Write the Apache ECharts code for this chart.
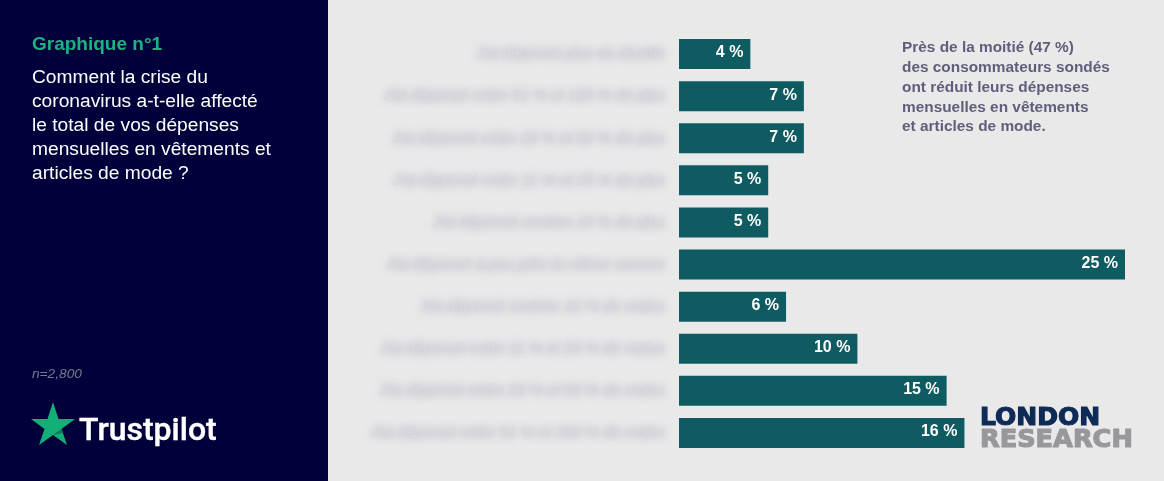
<!DOCTYPE html>
<html>
<head>
<meta charset="utf-8">
<style>
  html, body { margin: 0; padding: 0; background: #e9e9ea; }
  #chart { width: 1164px; height: 481px; }
</style>
<script src="https://cdn.jsdelivr.net/npm/echarts@6/dist/echarts.min.js"></script>
</head>
<body>
<div id="chart"></div>
<script>
const categories = [
  "J'ai dépensé plus du double",
  "J'ai dépensé entre 51 % et 100 % de plus",
  "J'ai dépensé entre 26 % et 50 % de plus",
  "J'ai dépensé entre 11 % et 25 % de plus",
  "J'ai dépensé environ 10 % de plus",
  "J'ai dépensé à peu près la même somme",
  "J'ai dépensé environ 10 % de moins",
  "J'ai dépensé entre 11 % et 25 % de moins",
  "J'ai dépensé entre 26 % et 50 % de moins",
  "J'ai dépensé entre 51 % et 100 % de moins"
];
const shares = [4, 7, 7, 5, 5, 25, 6, 10, 15, 16];
const questionLines = [
  'Comment la crise du',
  'coronavirus a-t-elle affecté',
  'le total de vos dépenses',
  'mensuelles en vêtements et',
  'articles de mode ?'
];
const noteLines = [
  'Près de la moitié (47 %)',
  'des consommateurs sondés',
  'ont réduit leurs dépenses',
  'mensuelles en vêtements',
  'et articles de mode.'
];

const chart = echarts.init(document.getElementById('chart'));

chart.setOption({
  animation: false,
  backgroundColor: '#e9e9ea',
  grid: { left: 679, top: 33, width: 446, height: 421 },
  xAxis: { type: 'value', min: 0, max: 25, show: false },
  yAxis: {
    type: 'category',
    inverse: true,
    data: categories,
    axisLine: { show: false },
    axisTick: { show: false },
    axisLabel: {
      margin: 14,
      fontFamily: 'Liberation Sans',
      fontStyle: 'italic',
      fontSize: 15.3,
      // the source labels are blurred out
      color: '#d8d8df',
      textShadowColor: 'rgba(115,115,145,0.65)',
      textShadowBlur: 8
    }
  },
  series: [{
    type: 'bar',
    data: shares,
    barWidth: 30,
    itemStyle: { color: '#0f5b62' },
    label: {
      show: true,
      position: 'insideRight',
      distance: 7,
      offset: [0, -1],
      formatter: '{c} %',
      color: '#fff',
      fontFamily: 'Liberation Sans',
      fontWeight: 'bold',
      fontSize: 16
    }
  }],
  graphic: [
    { type: 'rect', z: -1, shape: { x: 0, y: 0, width: 328, height: 481 }, style: { fill: '#02003a' } },
    { type: 'text', x: 32, y: 35, style: { text: 'Graphique n°1', fill: '#1fb07f', font: 'bold 19px "Liberation Sans"' } },
    { type: 'text', x: 32, y: 66, style: { text: questionLines.join('\n'), fill: '#fff', font: '19.2px "Liberation Sans"', lineHeight: 24 } },
    { type: 'text', x: 32, y: 367, style: { text: 'n=2,800', fill: '#7a7a92', font: 'italic 13.7px "Liberation Sans"' } },
    { type: 'polygon', shape: { points: [[53, 402], [58.5, 419], [75, 419], [61.5, 429], [67, 445], [53, 435], [39, 445], [44.5, 429], [31, 419], [47.5, 419]] }, style: { fill: '#12b076' } },
    { type: 'polygon', shape: { points: [[53, 435], [61.5, 429], [63, 433]] }, style: { fill: '#0b7a55' } },
    { type: 'text', x: 79, y: 416, style: { text: 'Trustpilot', fill: '#fff', stroke: '#fff', lineWidth: 0.4, font: '500 32px Roboto' } },
    { type: 'text', x: 902, y: 38, style: { text: noteLines.join('\n'), fill: '#5f5f7b', font: 'bold 15.4px "Liberation Sans"', lineHeight: 19.8 } },
    { type: 'text', x: 980, y: 406, style: { text: 'LONDON', fill: '#0e2a56', stroke: '#0e2a56', lineWidth: 1.2, font: 'bold 25px "DejaVu Sans"' } },
    { type: 'text', x: 980, y: 427, style: { text: 'RESEARCH', fill: '#98989c', stroke: '#98989c', lineWidth: 1.2, font: 'bold 25.6px "DejaVu Sans"' } }
  ]
});
</script>
</body>
</html>
